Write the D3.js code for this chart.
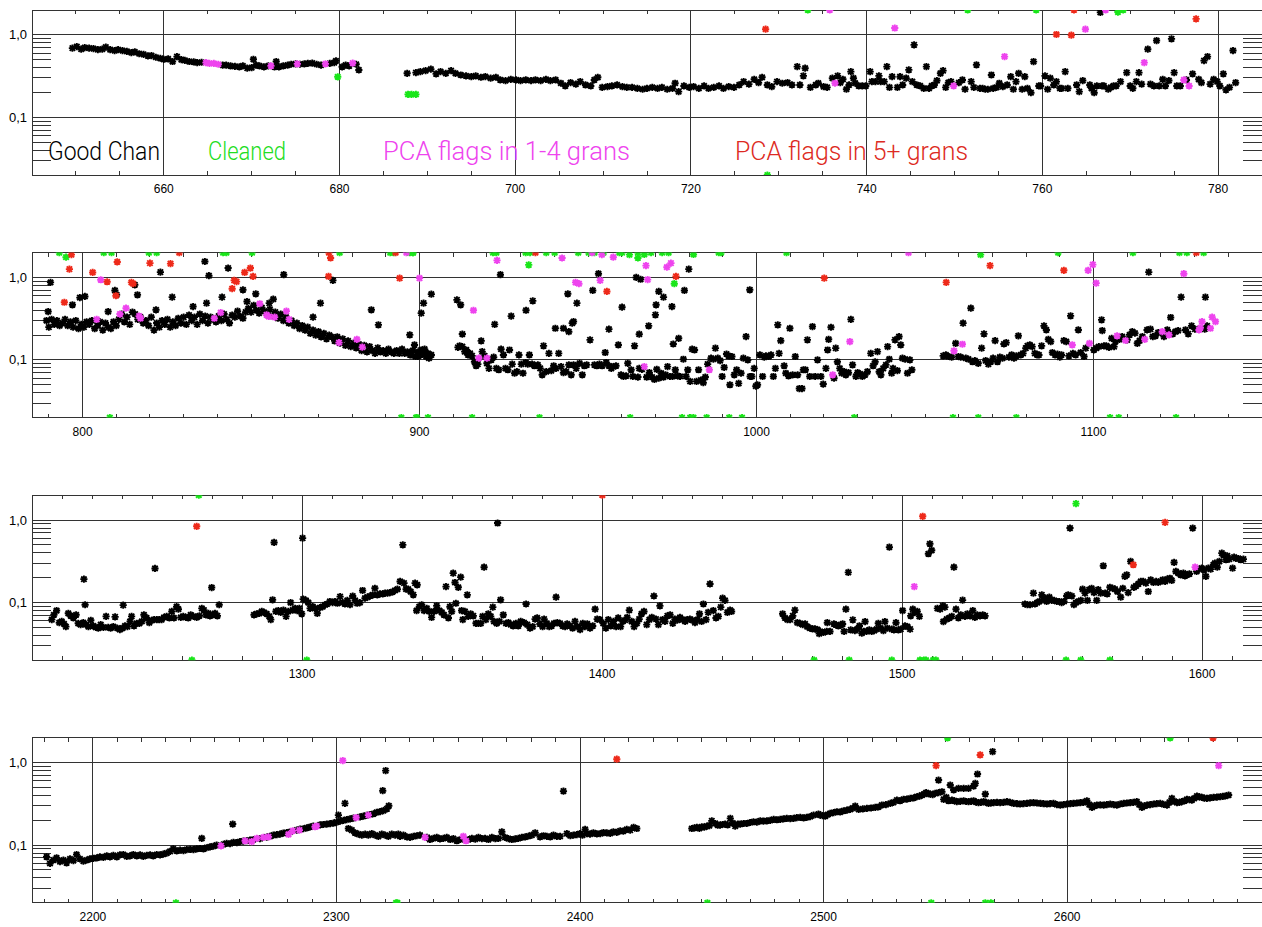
<!DOCTYPE html>
<html><head><meta charset="utf-8">
<script src="https://cdn.jsdelivr.net/npm/d3@7"></script>
<style>body{margin:0;background:#fff}svg{display:block}</style>
</head><body>
<svg id="c" width="1262" height="927"></svg>
<script>
// ---------------- DATA ----------------
const panelDomains = [[645,785],[785,1150],[1210,1620],[2175,2680]];
const panelTicks = [[660,680,700,720,740,760,780],[800,900,1000,1100],[1300,1400,1500,1600],[2200,2300,2400,2500,2600]];
const panelMinorStep = [5,10,10,10];
const yDomain = [0.02,2];
const yMajor = [1,0.1];
const yMajorLabels = ["1,0","0,1"];
const yMinor = [0.03,0.04,0.05,0.06,0.07,0.08,0.09,0.2,0.3,0.4,0.5,0.6,0.7,0.8,0.9];
const legendLabels = ["Good Chan","Cleaned","PCA flags in 1-4 grans","PCA flags in 5+ grans"];

const p1Good = [[649.6,.69],[650.1,.72],[650.6,.67],[651.0,.70],[651.5,.69],[652.0,.68],[652.5,.66],[653.0,.67],[653.4,.71],[653.9,.66],[654.4,.645],[654.8,.66],[655.3,.645],[655.8,.63],[656.3,.61],[656.7,.62],[657.2,.59],[657.7,.58],[658.2,.555],[658.6,.56],[659.1,.535],[659.6,.52],[660.0,.505],[660.5,.51],[661.0,.475],[661.5,.545],[662.0,.50],[662.4,.49],[662.9,.475],[663.4,.47],[663.8,.46],[664.3,.465],[666.7,.43],[667.1,.43],[667.6,.42],[668.1,.415],[668.6,.41],[669.0,.42],[669.5,.395],[670.0,.40],[670.2,.505],[670.5,.43],[670.9,.42],[671.4,.41],[671.9,.42],[672.6,.41],[672.8,.475],[673.1,.41],[673.6,.42],[674.1,.43],[674.5,.44],[675.0,.445],[675.5,.44],[676.0,.445],[676.4,.45],[676.9,.455],[677.4,.44],[677.9,.43],[678.9,.45],[679.4,.46],[679.6,.485],[680.3,.41],[680.7,.43],[681.1,.42],[681.9,.44],[682.2,.375],
[687.7,.342],[688.7,.348],[689.2,.358],[689.8,.368],[690.4,.383],[691.0,.336],[691.5,.358],[692.1,.342],[692.7,.368],[693.2,.342],[693.8,.326],[694.4,.318],[695.0,.311],[695.5,.318],[696.1,.306],[696.6,.311],[697.2,.298],[697.8,.306],[698.3,.284],[698.9,.279],[699.5,.289],[700.1,.284],[700.6,.279],[701.2,.284],[701.8,.279],[702.3,.284],[702.9,.279],[703.5,.289],[704.0,.279],[704.6,.284],[705.2,.259],[705.7,.24],[706.3,.263],[706.9,.253],[707.4,.271],[708.0,.247],[708.6,.24],[709.0,.284],[709.4,.306],[709.9,.231],[710.5,.235],[711.0,.24],[711.6,.247],[712.2,.235],[712.7,.231],[713.3,.231],[713.9,.225],[714.5,.219],[715.0,.225],[715.6,.231],[716.2,.225],[716.7,.231],[717.3,.219],[717.9,.225],[718.2,.259],[718.6,.205],[719.2,.24],[719.8,.231],[720.3,.235],[720.9,.225],[721.5,.24],[722.0,.225],[722.6,.231],[723.2,.24],[723.7,.225],[724.3,.235],[724.9,.231],[725.5,.247],[726.0,.271],[726.6,.253],[727.2,.289],[727.7,.263],[728.1,.306],[728.7,.247],[729.2,.235],[729.8,.271],[730.4,.259],[731.0,.263],[731.5,.247],[732.1,.412],[732.4,.247],[732.8,.318],[733.0,.394],[733.6,.231],[734.2,.247],[734.5,.259],
[735.1,.235],[735.5,.231],[736.1,.298],[736.7,.318],[737.0,.263],[737.3,.289],[737.7,.219],[738.0,.247],[738.2,.358],[738.5,.298],[738.7,.259],[739.1,.24],[739.5,.24],[739.9,.24],[740.4,.358],[740.6,.271],[741.0,.271],[741.4,.318],[741.6,.271],[742.0,.271],[742.3,.412],[742.6,.231],[742.9,.311],[743.5,.231],[743.8,.311],[744.1,.247],[744.5,.298],[744.8,.376],[745.2,.271],[745.4,.756],[745.7,.247],[746.1,.24],[746.5,.225],[746.8,.412],[747.1,.225],[747.4,.24],[747.7,.247],[748.0,.279],[748.4,.342],[748.7,.368],[749.0,.231],[749.3,.263],[749.6,.271],[750.5,.263],[750.9,.284],[751.2,.219],[751.9,.271],[752.2,.231],[752.5,.432],[752.9,.225],[753.2,.225],[753.5,.219],[753.8,.219],[754.2,.326],[754.4,.225],[754.8,.231],[755.1,.259],[755.5,.235],[756.0,.247],[756.4,.311],[756.7,.219],[757.0,.271],[757.3,.342],[757.7,.219],[758.0,.311],[758.3,.225],[758.7,.199],[759.0,.474],[759.6,.24],[759.8,.24],[760.3,.318],[760.6,.219],[760.9,.298],[761.3,.247],[761.6,.271],[762.0,.225],[762.2,.225],[762.6,.358],[762.9,.225],[763.9,.247],[764.2,.205],[764.6,.279],[765.4,.247],[765.6,.225],[765.9,.199],[766.2,.24],[766.6,1.87],[766.8,.24],[767.0,.24],[767.5,.219],[767.8,.231],[768.1,.24],[768.4,.24],[768.9,.271],[769.6,.348],[770.0,.24],[770.3,.225],[770.7,.271],[771.0,.348],[771.3,.253],[772.0,.67],[772.3,.253],[772.7,.24],[773.0,.853],[773.3,.24],[773.7,.289],[774.0,.24],[774.4,.279],[774.7,.894],[775.0,.348],[775.3,.24],[775.7,.24],[776.4,.284],[777.1,.336],[777.8,.289],[778.1,.263],[778.4,.487],[778.8,.545],[779.1,.253],[779.5,.289],[779.9,.271],[780.2,.24],[780.6,.336],[780.9,.215],[781.3,.231],[781.7,.645],[782.0,.263]];
const p1Cleaned = [[679.8,.31],[687.8,.19],[688.2,.19],[688.7,.19],[728.7,.02],[733.3,2],[751.5,2],[759.3,2],[768.6,1.89],[769.2,2]];
const p1Pca14 = [[664.8,.46],[665.2,.45],[665.7,.45],[666.2,.44],[672.2,.42],[675.2,.445],[678.4,.445],[681.5,.455],[735.8,2],[736.4,.259],[743.2,1.21],[749.9,.24],[755.7,.545],[764.9,1.17],[767.2,2],[771.6,.46],[776.1,.284],[776.7,.24]];
const p1Pca5 = [[728.5,1.17],[761.6,1.01],[763.3,.99],[763.6,2],[777.5,1.56]];

const p2Good = [[789.3,.30],[790.0,.25],[790.8,.31],[791.6,.27],[792.4,.30],[793.2,.26],[794.0,.28],[794.8,.31],[795.6,.26],[796.4,.29],[797.2,.25],[798.0,.30],[798.8,.24],[799.6,.27],[800.4,.25],[801.2,.29],[802.0,.27],[802.8,.30],[803.6,.24],[804.4,.26],[805.2,.29],[806.0,.23],[806.8,.28],[807.6,.25],[808.4,.24],[809.2,.29],[810.0,.26],[810.8,.31],[811.6,.36],[812.4,.29],[813.2,.33],[814.0,.27],[814.8,.38],[815.6,.36],[816.4,.31],[817.2,.33],[818.0,.28],[818.8,.30],[819.6,.26],[820.4,.33],[821.2,.23],[822.0,.28],[822.8,.25],[823.6,.30],[824.4,.27],[825.2,.31],[826.0,.25],[826.8,.29],[827.6,.26],[828.4,.32],[829.2,.28],[830.0,.33],[830.8,.27],[831.6,.35],[832.4,.30],[833.2,.33],[834.0,.27],[834.8,.36],[835.6,.30],[836.4,.34],[837.2,.28],[838.0,.33],[838.8,.31],[839.6,.29],[840.4,.34],[841.2,.30],[842.0,.36],[842.8,.31],[843.6,.28],[844.4,.35],[845.2,.33],[846.0,.39],[846.8,.34],[847.6,.32],[848.4,.38],[849.2,.42],[850.0,.38],[850.8,.46],[851.6,.40],[852.4,.37],[853.2,.43],[854.0,.39],[854.8,.35],[855.6,.41],[856.4,.34],[857.2,.38],[858.0,.32],[858.8,.36],[859.6,.30],[860.4,.33],[861.2,.28],[862.0,.30],[862.8,.26],[863.6,.28],[864.4,.24],[865.2,.26],[866.0,.23],[866.8,.25],[867.6,.21],[868.4,.23],[869.2,.20],[870.0,.22],[870.8,.19],[871.6,.21],[872.4,.18],[873.2,.20],[874.0,.19],[874.8,.17],[875.6,.19],[876.4,.16],[877.2,.18],[878.0,.15],[878.8,.17],[879.6,.145],[880.4,.16],[881.2,.14],[882.0,.155],[882.8,.13],[883.6,.15],[884.4,.125],[885.2,.145],[886.0,.13],[886.8,.12],[887.6,.14],[888.4,.125],[889.2,.13],[890.0,.12],[890.8,.135],[891.6,.125],[892.4,.12],[893.2,.13],[894.0,.12],[894.8,.135],[895.6,.12],[896.4,.125],[897.2,.115],[898.0,.13],[898.8,.11],[899.6,.125],[900.4,.115],[901.2,.12],[902.0,.11],[902.8,.105],
[789.8,.386],[790.5,.87],[797.0,.466],[799.2,.57],[800.7,.588],[807.6,.386],[809.6,.695],[810.1,.616],[815.5,.814],[816.3,.616],[821.8,.405],[823.1,1.16],[826.6,.577],[832.8,.444],[836.3,1.56],[837.5,1.05],[836.8,.488],[841.4,.577],[843.2,1.30],[847.6,.708],[848.8,.51],[851.4,.633],[855.4,.488],[856.6,.545],[859.7,1.08],[868.4,.33],[870.6,.488],[874.3,.92],[885.7,.405],[887.8,.266],[897.1,.201],
[897.6,.115],[898.5,.152],[899.5,.11],[900.5,.132],[901.5,.135],[902.5,.12],[903.5,.115],[900.5,.369],[901.2,.488],[903.5,.627],[911.1,.535],[912.2,.466],[912.7,.206],
[911.4,.142],[911.9,.148],[912.7,.145],[913.4,.126],[913.9,.132],[914.4,.115],[915.0,.12],[915.6,.112],[916.3,.095],[916.8,.085],[917.3,.089],[918.3,.17],[918.6,.126],[919.3,.112],[920.0,.091],[920.6,.079],[921.3,.10],[922.0,.108],[922.8,.079],[923.5,.076],[924.2,.135],[924.9,.115],[925.5,.079],[926.2,.076],[926.7,.132],[927.5,.089],[928.2,.069],[928.9,.072],[929.5,.115],[930.2,.089],[930.7,.069],[931.5,.093],[932.1,.089],[932.6,.115],[933.4,.089],[934.1,.085],[935.1,.087],[935.8,.079],[936.4,.066],[937.6,.072],[938.4,.12],[939.1,.074],[939.8,.085],[940.5,.079],[941.3,.12],[942.0,.083],[942.7,.07],[943.5,.072],[944.3,.087],[945.0,.066],[945.7,.087],[946.5,.079],[947.5,.091],[948.3,.066],[948.9,.085],[949.6,.087],[951.9,.087],[952.6,.085],[953.4,.089],[954.2,.085],[955.4,.093],[956.2,.085],[956.9,.079],[957.5,.083],[958.3,.085],[959.8,.066],[960.5,.063],[961.3,.064],[961.8,.091],[962.8,.076],[963.3,.063],[964.8,.062],[965.2,.079],[966.0,.077],[967.4,.062],[968.2,.07],[969.0,.062],[969.7,.058],[970.4,.077],[971.0,.06],[971.7,.069],[972.4,.062],[973.0,.066],[973.6,.083],[974.3,.063],[975.1,.063],[975.9,.076],[976.6,.064],[977.3,.063],[978.3,.102],[979.1,.063],[979.6,.076],[980.3,.055],[980.9,.135],[981.6,.132],[982.2,.055],[982.8,.076],[983.5,.057],[984.2,.053],[984.8,.062],[985.5,.089],[986.5,.105],[987.2,.102],[987.8,.139],[988.5,.105],[989.2,.098],[989.8,.063],[990.4,.081],[991.1,.118],[991.7,.112],[992.1,.05],[992.7,.11],[993.4,.066],[994.1,.076],[994.7,.052],[995.4,.069],[996.1,.105],[997.4,.10],[998.1,.063],[998.6,.063],[999.3,.079],[999.8,.048],[1000.3,.05],[1001.0,.115],[1001.8,.063],[1002.3,.108],[1002.8,.112],[1003.6,.11],[1004.3,.115],[1005.0,.063],[1005.6,.079],[1006.7,.12],[1008.2,.085],[1008.7,.069],[1009.5,.064],[1010.7,.066],[1011.5,.11],[1012.2,.066],[1012.7,.045],[1013.5,.045],[1013.9,.076],[1014.5,.076],[1015.8,.063],[1017.4,.063],[1018.1,.10],
[922.3,.27],[924.0,1.08],[927.2,.34],[931.6,.40],[933.6,.52],[936.8,.148],[940.3,.242],[942.7,.242],[944.0,.633],[944.3,.22],[945.3,.279],[945.7,.292],[946.7,.488],[950.6,.175],[951.4,.695],[953.1,1.11],[955.1,.123],[956.2,.236],[959.0,.152],[960.1,.436],[963.8,.148],[964.3,1.0],[965.6,.95],[965.2,.205],[968.0,.259],[970.0,.352],[970.2,.466],[971.0,.676],[972.4,.577],[974.9,.444],[975.3,.156],[976.9,.183],[978.6,.695],[979.9,1.26],[996.9,.192],[998.0,.708],[1006.3,.266],[1007.2,.171],[1009.9,.242],[1015.1,.175],[1016.6,.254],
[1019.1,.063],[1019.8,.051],[1020.6,.079],[1023.0,.06],[1023.5,.139],[1024.0,.095],[1024.7,.079],[1025.3,.069],[1026.0,.072],[1026.5,.066],[1027.3,.07],[1028.5,.087],[1029.5,.063],[1030.0,.07],[1030.7,.068],[1031.4,.063],[1032.2,.066],[1032.9,.072],[1033.9,.12],[1034.6,.085],[1035.2,.095],[1035.9,.126],[1036.4,.072],[1036.9,.066],[1037.6,.079],[1038.4,.087],[1038.9,.145],[1039.4,.102],[1040.1,.069],[1040.5,.079],[1041.8,.074],[1042.8,.152],[1043.3,.105],[1044.1,.102],[1044.8,.069],[1045.5,.10],[1046.1,.076],
[1021.1,.132],[1021.4,.178],[1022.1,.249],[1028.0,.31],[1041.1,.175],[1042.3,.192],
[1055.4,.112],[1056.2,.115],[1057.1,.11],[1057.9,.108],[1059.1,.159],[1059.9,.11],[1060.6,.108],[1061.3,.279],[1062.1,.105],[1062.9,.102],[1063.6,.424],[1064.1,.095],[1064.8,.098],[1065.8,.091],[1066.8,.139],[1067.5,.207],[1068.0,.098],[1068.8,.089],[1069.5,.095],[1070.2,.105],[1070.8,.171],[1071.5,.095],[1072.2,.108],[1073.0,.105],[1073.4,.156],[1074.1,.162],[1074.9,.108],[1075.7,.115],[1076.4,.105],[1077.1,.112],[1077.7,.196],[1078.4,.115],[1079.1,.12],[1079.9,.139],[1080.4,.148],[1081.1,.152],[1081.8,.145],[1082.6,.12],[1083.3,.115],[1083.8,.115],[1084.6,.148],[1085.3,.259],[1086.0,.231],[1086.6,.178],[1087.3,.167],[1087.8,.123],[1088.6,.115],[1089.3,.118],[1090.0,.108],[1090.5,.115],[1091.2,.171],[1091.9,.167],[1092.7,.112],[1093.2,.342],[1093.9,.12],[1094.7,.115],[1095.5,.231],[1096.2,.123],[1097.2,.11],[1097.7,.139],[1100.1,.132],[1100.8,.139],[1101.6,.145],[1102.4,.306],[1102.6,.227],[1103.1,.148],[1103.8,.148],[1104.6,.142],[1105.4,.183],[1106.1,.145],[1106.5,.167],[1107.7,.178],[1108.5,.192],[1110.0,.175],[1110.7,.201],[1111.5,.22],[1112.3,.211],[1113.0,.159],[1113.7,.171],[1114.5,.192],[1115.9,.231],[1116.4,1.16],[1116.9,.236],[1117.6,.192],[1118.4,.196],[1119.2,.215],[1119.9,.215],[1120.9,.192],[1121.9,.231],[1122.9,.327],[1123.5,.207],[1124.3,.22],[1125.1,.227],[1126.0,.577],[1127.3,.231],[1128.1,.207],[1129.1,.259],[1130.1,.236],[1133.0,.236],[1133.2,.577],[1133.7,.259]];
const p2Cleaned = [[793.1,2],[795.1,1.76],[806.3,2],[808.6,2],[819.7,2],[822.0,2],[841.7,2],[842.7,2],[850.3,2],[876.3,2],[891.3,2],[892.3,2],[898.0,2],[808.1,.02],[894.6,.02],[899.0,.02],
[897.1,2],[898.1,2],[921.8,2],[922.8,2],[931.5,2],[932.8,2],[937.6,2],[940.1,2],[947.1,2],[950.2,2],[951.9,2],[954.6,2],[959.3,2],[960.1,2],[962.3,1.89],[964.8,2],[964.8,1.72],[966.7,1.9],[968.7,2],[972.0,2],[973.9,2],[981.3,1.9],[988.8,2],[989.5,2],[1008.9,2],[932.4,1.42],[975.6,.84],
[899.2,.02],[902.5,.02],[915.6,.02],[935.6,.02],[962.5,.02],[977.9,.02],[980.3,.02],[981.3,.02],[985.2,.02],[991.9,.02],[995.7,.02],
[1066.5,1.89],[1089.5,2],[1111.7,2],[1125.5,2],[1127.7,2],[1132.7,2],[1029.0,.02],[1058.3,.02],[1065.8,.02],[1077.1,.02],[1104.9,.02],[1107.5,.02],[1124.5,.02]];
const p2Pca14 = [[805.4,.937],[804.2,.31],[811.1,.36],[812.9,.424],[816.8,.34],[817.2,.32],[839.1,.32],[841.0,.375],[852.6,.48],[854.6,.352],[855.3,.336],[857.0,.33],[860.5,.39],[861.3,.31],[876.1,.162],[881.4,.178],[883.0,.143],[896.1,2],[900.0,.98],
[916.0,.40],[917.6,.105],[920.0,.105],[923.0,1.61],[942.3,1.72],[946.3,.87],[947.3,.84],[951.2,2],[953.6,.92],[954.1,1.89],[957.5,1.76],[966.7,.083],[967.2,1.39],[967.7,.94],[973.4,1.33],[974.6,1.49],[986.0,.076],
[1022.6,.066],[1027.7,.167],[1045.1,2],[1058.6,.129],[1061.1,.155],[1093.7,.152],[1098.4,1.22],[1098.8,.159],[1099.8,1.43],[1100.8,.853],[1107.0,.196],[1109.5,.172],[1115.2,.178],[1120.4,.22],[1122.4,.201],[1126.8,1.11],[1131.3,.231],[1131.7,.245],[1132.2,.292],[1134.7,.242],[1135.2,.33],[1136.2,.292]];
const p2Pca5 = [[796.7,1.89],[796.1,1.26],[794.6,.50],[803.0,1.15],[807.3,.886],[810.3,1.54],[809.9,.60],[814.5,.87],[815.0,.84],[820.0,1.49],[826.1,1.47],[828.7,2],[844.4,.73],[845.0,.92],[845.7,.89],[848.1,1.15],[849.8,1.30],[850.6,1.03],[873.1,2],[873.6,1.72],[873.0,1.03],[892.9,2],[894.1,.98],
[934.4,2],[955.6,.676],[976.1,1.03],[1020.1,.98],[1056.3,.87],[1069.3,1.39],[1091.2,1.22],[1130.5,2]];

const p3Good = [[1216.6,.062],[1217.3,.071],[1218.2,.08],[1219.1,.057],[1219.9,.059],[1220.7,.055],[1221.3,.051],[1222.1,.074],[1222.9,.069],[1223.8,.065],[1224.7,.071],[1225.4,.056],[1226.2,.054],[1227.1,.057],[1227.7,.094],[1227.3,.192],[1228.0,.054],[1228.8,.051],[1229.6,.061],[1230.4,.052],[1231.3,.05],[1232.1,.049],[1232.9,.054],[1233.8,.05],[1234.7,.068],[1235.4,.05],[1236.2,.049],[1237.1,.051],[1237.7,.067],[1238.4,.049],[1239.3,.047],[1240.2,.049],[1240.4,.093],[1241.0,.052],[1241.8,.051],[1242.7,.059],[1243.2,.068],[1244.0,.052],[1244.9,.056],[1245.8,.056],[1246.6,.059],[1247.3,.071],[1248.2,.065],[1249.1,.057],[1249.9,.061],[1250.7,.062],[1251.0,.259],[1251.6,.062],[1252.4,.062],[1253.2,.062],[1254.0,.066],[1254.9,.068],[1255.8,.065],[1256.6,.078],[1257.3,.065],[1258.2,.089],[1258.8,.083],[1259.6,.066],[1260.4,.068],[1261.3,.066],[1262.1,.065],[1262.9,.071],[1263.8,.068],[1264.9,.066],[1265.8,.069],[1266.6,.085],[1267.3,.081],[1268.0,.071],[1268.8,.074],[1269.3,.069],[1269.9,.152],[1270.2,.071],[1271.0,.074],[1271.8,.069],[1272.4,.094],
[1284.0,.071],[1284.9,.073],[1285.8,.074],[1286.6,.078],[1287.3,.076],[1288.2,.073],[1289.1,.068],[1289.6,.062],[1290.2,.108],[1290.7,.535],[1291.3,.078],[1292.1,.08],[1292.9,.076],[1293.8,.081],[1294.7,.068],[1295.4,.078],[1296.2,.1],[1296.9,.081],[1297.7,.085],[1298.4,.08],[1299.1,.085],[1299.9,.073],[1300.2,.604],[1300.4,.11],[1301.3,.106],[1302.1,.1],[1302.7,.085],[1303.6,.089],[1304.3,.085],[1305.1,.074],[1306.0,.087],[1306.9,.089],[1307.7,.094],[1308.4,.096],[1309.3,.103],[1310.2,.1],[1311.0,.103],[1311.8,.098],[1312.7,.118],[1313.6,.1],[1314.3,.096],[1315.1,.106],[1316.0,.094],[1316.9,.12],[1317.7,.106],[1318.4,.098],[1319.3,.1],[1320.2,.14],[1321.0,.113],[1321.8,.116],[1322.7,.12],[1323.6,.124],[1324.3,.149],[1325.1,.124],[1326.0,.127],[1326.9,.127],[1327.7,.13],[1328.5,.13],[1329.3,.132],[1330.2,.135],[1331.0,.14],[1331.8,.145],[1332.7,.18],[1333.6,.50],[1334.0,.172],[1334.7,.145],[1335.4,.145],[1336.2,.136],[1337.1,.124],[1337.7,.172],[1338.2,.08],[1339.1,.089],
[1338.4,.164],[1339.9,.094],[1340.7,.080],[1341.6,.085],[1342.4,.078],[1343.2,.066],[1344.0,.078],[1344.9,.091],[1345.8,.080],[1346.6,.076],[1347.3,.071],[1348.0,.156],[1348.8,.065],[1349.3,.089],[1349.9,.078],[1350.4,.227],[1351.0,.175],[1351.3,.098],[1352.1,.153],[1352.9,.203],[1353.2,.080],[1353.6,.062],[1354.3,.078],[1355.1,.124],[1355.4,.068],[1356.2,.073],[1357.1,.069],[1358.0,.056],[1358.8,.056],[1359.6,.056],[1360.2,.068],[1360.7,.268],[1361.3,.062],[1362.1,.073],[1362.9,.068],[1363.6,.088],[1364.0,.059],[1364.9,.056],[1365.2,.92],[1365.8,.059],[1366.2,.108],[1367.1,.071],[1368.0,.056],[1368.8,.057],[1369.6,.054],[1370.4,.052],[1371.3,.056],[1372.1,.052],[1372.9,.059],[1374.0,.057],[1374.7,.096],[1375.1,.054],[1376.0,.049],[1376.9,.051],[1377.7,.063],[1378.4,.065],[1379.3,.055],[1380.2,.051],[1380.7,.063],[1381.6,.056],[1382.4,.051],[1383.2,.052],[1384.0,.056],[1384.7,.116],[1385.1,.057],[1386.0,.056],[1386.9,.052],[1387.7,.051],[1388.4,.055],[1389.3,.052],[1390.2,.049],[1391.0,.059],[1391.8,.051],[1392.7,.047],[1393.6,.056],[1394.3,.051],[1395.1,.055],[1396.0,.049],[1396.9,.052],[1397.7,.083],[1398.4,.063],[1399.3,.062],[1400.4,.056],[1401.3,.049],[1402.1,.062],[1402.9,.052],[1403.8,.059],[1404.7,.051],[1405.4,.065],[1406.2,.051],[1406.9,.059],[1407.7,.061],[1408.4,.066],[1409.1,.081],[1409.9,.059],[1410.7,.051],[1411.6,.056],[1412.4,.063],[1413.2,.073],[1414.0,.078],[1414.9,.054],[1415.8,.062],[1416.6,.066],[1417.3,.12],[1418.0,.063],[1418.8,.054],[1419.3,.091],[1420.2,.062],[1421.0,.059],[1421.8,.069],[1422.7,.071],[1423.6,.056],[1424.3,.063],[1425.1,.061],[1426.0,.066],[1426.9,.062],[1427.7,.059],[1428.4,.062],[1429.3,.063],[1430.2,.061],[1431.0,.057],[1431.8,.062],[1432.5,.073],[1433.2,.059],[1433.8,.096],[1434.7,.062],[1435.4,.076],[1436.0,.168],[1437.1,.080],[1438.0,.065],[1438.8,.068],[1439.6,.088],[1440.2,.113],[1441.0,.106],[1441.8,.076],[1442.7,.081],[1443.2,.078],
[1460.2,.073],[1461.0,.065],[1461.8,.062],[1462.7,.062],[1463.6,.069],[1464.3,.081],[1465.1,.057],[1466.0,.056],[1466.9,.054],[1467.7,.055],[1468.4,.051],[1469.3,.049],[1470.2,.048],[1471.0,.048],[1471.8,.047],[1472.4,.042],
[1472.7,.0446],[1473.8,.0433],[1474.9,.0446],[1475.1,.057],[1476.0,.0446],[1477.3,.055],[1478.0,.0536],[1478.8,.052],[1479.6,.0536],[1480.2,.055],[1480.7,.0446],[1481.3,.083],[1482.1,.232],[1482.9,.0466],[1483.6,.0616],[1484.3,.0456],[1485.1,.0476],[1485.8,.052],[1486.6,.0425],[1487.3,.0446],[1487.7,.0588],[1488.2,.0446],[1489.1,.0466],[1489.9,.0446],[1490.7,.0456],[1491.6,.0476],[1492.1,.0561],[1492.9,.0488],[1493.8,.0456],[1494.3,.0588],[1495.1,.0488],[1495.8,.47],[1496.6,.0476],[1497.3,.0466],[1498.0,.057],[1498.8,.0466],[1499.6,.0476],[1500.2,.08],[1501.0,.052],[1501.8,.051],[1502.7,.0476],[1502.9,.069],[1503.6,.083],[1504.3,.0757],[1505.1,.078],[1505.8,.068],[1508.8,.39],[1509.3,.515],[1509.9,.43],[1511.8,.085],[1512.7,.083],[1513.6,.091],[1514.3,.088],[1513.8,.0588],[1514.9,.0628],[1515.8,.065],[1516.6,.068],[1517.3,.268],[1518.0,.083],[1518.8,.065],[1519.6,.071],[1520.2,.107],[1521.0,.068],[1521.8,.073],[1522.7,.069],[1523.6,.08],[1524.3,.066],[1525.1,.071],[1526.0,.069],[1526.9,.071],[1527.7,.069],
[1541.0,.096],[1541.8,.094],[1542.7,.094],[1543.8,.13],[1544.3,.096],[1545.1,.1],[1545.8,.103],[1546.6,.124],[1547.1,.11],[1547.7,.113],[1548.2,.103],[1549.1,.116],[1549.9,.106],[1550.7,.106],[1551.6,.103],[1552.4,.103],[1553.2,.1],[1554.0,.103],[1554.9,.12],[1555.4,.124],[1556.0,.80],[1556.6,.12],[1557.3,.094],[1558.0,.1],[1558.8,.103],[1559.6,.106],[1560.2,.145],[1561.0,.13],[1561.8,.106],[1562.4,.143],[1563.2,.149],[1564.0,.132],[1564.9,.106],[1565.4,.143],[1566.2,.13],[1567.1,.279],[1567.7,.13],[1568.4,.127],[1569.3,.153],[1570.2,.149],[1571.0,.145],[1571.8,.136],[1572.9,.116],[1573.6,.149],[1574.3,.207],[1574.9,.217],[1575.4,.132],[1576.2,.315],[1577.3,.153],[1578.0,.159],[1578.8,.168],[1579.6,.18],[1580.4,.18],[1581.3,.172],[1582.1,.136],[1582.9,.188],[1583.8,.175],[1584.7,.18],[1585.4,.175],[1586.2,.18],[1586.9,.188],[1587.7,.18],[1588.4,.192],[1589.3,.197],[1589.9,.185],[1590.7,.306],[1591.3,.238],[1592.1,.227],[1592.9,.217],[1593.8,.227],[1594.3,.211],[1594.9,.217],[1595.8,.222],[1596.9,.80],[1598.2,.238],[1599.1,.254],[1599.9,.261],[1600.7,.249],[1601.3,.207],[1602.1,.261],[1602.9,.254],[1603.8,.287],[1604.3,.30],[1605.1,.268],[1605.8,.315],[1606.6,.397],[1607.1,.379],[1608.0,.33],[1608.4,.369],[1609.1,.336],[1610.2,.261],[1610.7,.355],[1611.3,.342],[1612.1,.342],[1612.9,.33],[1613.8,.336]];
const p3Cleaned = [[1265.6,2],[1263.3,.02],[1301.6,.02],[1470.7,.02],[1482.4,.02],[1496.6,.02],[1506.0,.02],[1507.3,.02],[1508.0,.02],[1510.4,.02],[1511.3,.02],[1554.7,.02],[1558.0,1.58],[1559.6,.02],[1569.3,.02]];
const p3Pca14 = [[1504.1,.156],[1597.7,.269]];
const p3Pca5 = [[1264.9,.84],[1400.1,2],[1506.9,1.11],[1577.1,.287],[1587.7,.937]];

const p4Good = [[2181.0,.072],[2182.4,.060],[2183.8,.066],[2185.1,.070],[2186.5,.063],[2187.9,.066],[2189.2,.061],[2190.6,.068],[2192.0,.065],[2193.3,.077],[2194.7,.068],[2196.1,.064],[2197.5,.066],[2198.8,.068],[2200.2,.069],[2201.6,.070],[2202.9,.072],[2204.3,.071],[2205.7,.074],[2207.0,.072],[2208.4,.075],[2209.8,.072],[2211.1,.076],[2212.5,.077],[2213.9,.073],[2215.2,.074],[2216.6,.077],[2218.0,.074],[2219.4,.076],[2220.7,.073],[2222.1,.075],[2223.5,.076],[2224.8,.074],[2226.2,.077],[2227.6,.076],[2228.9,.078],[2230.3,.080],[2231.7,.084],[2233.0,.090],[2234.4,.085],[2235.8,.087],[2237.2,.086],[2238.5,.088],[2239.9,.089],[2241.3,.088],[2242.6,.090],[2244.0,.091],[2244.7,.121],[2245.4,.090],[2246.7,.093],[2248.1,.095],[2249.5,.097],[2250.8,.100],[2253.6,.102],[2254.9,.105],[2256.3,.104],[2257.4,.180],[2257.7,.108],[2259.1,.107],[2260.4,.110],[2261.8,.112],[2263.2,.113],[2264.5,.115],[2265.9,.117],[2268.6,.120],[2271.4,.125],[2272.7,.128],[2274.1,.132],[2275.5,.134],[2276.8,.136],[2278.2,.140],[2279.6,.142],[2281.0,.145],[2283.7,.152],[2285.1,.156],[2286.4,.158],[2287.8,.162],[2289.2,.166],[2290.5,.170],[2293.3,.176],[2294.6,.178],[2296.0,.180],[2297.4,.182],[2298.8,.185],[2300.1,.190],[2300.8,.231],[2301.5,.195],[2302.9,.200],[2303.5,.321],[2304.2,.204],[2305.6,.208],[2307.0,.212],[2309.7,.220],[2311.1,.225],[2312.4,.230],[2313.8,.235],[2315.2,.240],[2316.5,.250],[2317.9,.255],[2319.0,.457],[2319.3,.262],[2320.2,.800],[2320.7,.275],[2321.5,.300],
[2304.9,.159],[2306.3,.152],[2307.6,.141],[2309.0,.136],[2310.4,.132],[2311.8,.136],[2313.1,.132],[2314.5,.138],[2315.9,.132],[2317.2,.128],[2318.6,.136],[2320.0,.132],[2321.3,.128],[2322.7,.136],[2324.1,.132],[2325.4,.136],
[2326.1,.128],[2327.5,.132],[2328.9,.126],[2330.2,.124],[2331.6,.128],[2333.0,.13],[2334.3,.132],[2337.2,.124],[2338.4,.117],[2339.8,.121],[2341.2,.124],[2342.5,.119],[2343.9,.121],[2345.3,.124],[2346.7,.117],[2348.0,.12],[2349.4,.113],[2350.8,.117],[2354.2,.117],[2355.6,.121],[2357.0,.118],[2358.3,.124],[2359.7,.12],[2361.0,.121],[2362.4,.117],[2363.8,.124],[2365.2,.12],[2366.5,.121],[2367.9,.145],[2369.2,.124],[2370.6,.12],[2372.0,.117],[2373.4,.119],[2374.7,.121],[2376.1,.124],[2377.5,.126],[2378.9,.129],[2380.2,.132],[2381.6,.141],[2383.6,.126],[2385.0,.13],[2386.4,.128],[2387.8,.126],[2389.1,.132],[2390.5,.128],[2391.8,.128],[2393.2,.452],[2394.6,.138],[2396.0,.13],[2397.3,.132],[2398.7,.134],[2400.0,.138],[2401.0,.132],[2402.1,.155],[2402.8,.138],[2404.1,.136],[2405.5,.141],[2406.9,.137],[2408.3,.138],[2409.6,.142],[2411.0,.141],[2412.4,.139],[2413.7,.145],[2415.1,.143],[2416.5,.149],[2417.8,.148],[2419.2,.155],[2420.6,.152],[2422.0,.164],[2423.3,.159],
[2445.9,.159],[2447.0,.162],[2448.0,.164],[2449.0,.16],[2450.0,.167],[2451.0,.165],[2452.1,.17],[2453.1,.172],[2454.1,.197],[2455.5,.183],[2456.5,.175],[2457.5,.175],[2458.5,.178],[2459.6,.18],[2460.6,.176],[2461.7,.211],[2462.7,.185],[2463.7,.17],[2464.8,.18],[2465.8,.18],[2467.2,.183],[2468.5,.183],[2469.8,.188],[2471.2,.192],[2472.6,.19],[2474.0,.197],[2475.3,.195],[2476.7,.197],[2478.1,.2],[2479.5,.205],[2480.8,.203],[2482.2,.205],[2483.5,.208],[2484.9,.211],[2486.3,.209],[2487.7,.211],[2489.0,.215],[2490.4,.217],[2491.8,.214],[2493.1,.217],[2494.5,.222],[2495.9,.231],[2497.9,.238],
[2498.6,.231],[2499.6,.228],[2500.7,.225],[2501.7,.235],[2502.7,.242],[2504.1,.248],[2505.5,.254],[2506.8,.252],[2508.2,.261],[2509.6,.265],[2510.9,.271],[2512.0,.28],[2513.0,.298],[2514.4,.271],[2516.1,.275],[2517.8,.279],[2519.5,.282],[2521.2,.287],[2522.5,.29],[2523.9,.306],[2525.6,.31],[2527.4,.321],[2528.7,.33],[2530.1,.352],[2531.4,.345],[2532.8,.359],[2534.2,.362],[2535.6,.369],[2537.0,.375],[2538.3,.386],[2539.4,.392],[2540.4,.405],[2541.3,.415],[2542.1,.432],[2543.0,.42],[2543.8,.416],[2544.8,.41],[2545.8,.424],[2547.2,.432],[2548.6,.444],[2549.3,.359],[2550.4,.379],[2551.3,.345],[2552.7,.352],[2553.7,.345],[2554.7,.336],[2556.1,.34],[2557.5,.345],[2558.5,.338],[2559.5,.336],[2560.6,.34],[2561.6,.345],[2562.6,.333],[2563.6,.327],[2564.6,.33],[2565.7,.336],[2566.7,.33],[2567.7,.321],[2568.8,.325],[2569.8,.327],[2571.2,.33],[2572.5,.327],[2573.9,.33],[2575.3,.336],[2576.6,.33],[2578.0,.321],[2579.4,.318],[2580.7,.315],[2582.1,.318],[2583.5,.321],[2584.8,.325],[2586.2,.327],[2587.6,.324],[2589.0,.321],[2590.3,.318],[2591.7,.315],[2593.0,.318],[2594.4,.321],[2595.8,.31],[2597.2,.306],[2598.5,.31],[2599.9,.315],[2601.3,.318],[2602.6,.321],[2604.0,.324],[2605.4,.327],[2606.7,.33],[2608.1,.345],[2609.1,.31],[2610.2,.287],[2611.2,.3],[2612.2,.306],[2613.6,.308],[2615.0,.306],[2616.3,.31],[2617.7,.315],[2619.1,.31],[2620.4,.306],[2621.8,.315],[2623.2,.321],[2624.5,.324],[2625.9,.327],[2627.2,.33],[2628.6,.336],[2629.6,.31],[2630.7,.287],[2631.7,.3],[2632.8,.306],[2634.1,.31],[2635.5,.315],[2636.8,.318],[2638.2,.321],[2639.6,.312],[2641.0,.306],[2642.0,.33],[2643.0,.369],[2644.0,.34],[2645.1,.327],[2646.1,.33],[2647.1,.336],[2648.2,.345],[2649.2,.359],[2650.2,.355],[2651.2,.352],[2652.2,.37],[2653.3,.394],[2654.3,.385],[2655.3,.379],[2656.3,.372],[2657.4,.369],[2658.7,.375],[2660.1,.379],[2661.5,.382],[2662.9,.386],[2663.9,.39],[2664.9,.394],[2666.3,.405],
[2547.2,.615],[2552.0,.535],[2553.4,.466],[2555.4,.488],[2557.5,.488],[2559.5,.488],[2561.6,.52],[2562.3,.56],[2563.2,.728],[2566.4,.416],[2569.4,1.36]];
const p4Cleaned = [[2234.1,.02],[2324.5,.02],[2325.0,.02],[2452.3,.02],[2544.2,.02],[2566.4,.02],[2568.7,.02],[2550.9,2],[2642.3,2]];
const p4Pca14 = [[2252.6,.098],[2262.5,.113],[2265.2,.11],[2267.3,.121],[2270.0,.124],[2272.1,.126],[2280.3,.135],[2282.0,.149],[2284.8,.152],[2291.2,.167],[2291.9,.17],[2302.6,1.06],[2308.1,.216],[2313.1,.231],[2336.4,.124],[2352.1,.128],[2353.2,.113],[2662.2,.92]];
const p4Pca5 = [[2415.1,1.10],[2546.2,.92],[2564.3,1.24],[2659.9,2]];

const panelSeries = [
  [p1Good,p1Cleaned,p1Pca14,p1Pca5],
  [p2Good,p2Cleaned,p2Pca14,p2Pca5],
  [p3Good,p3Cleaned,p3Pca14,p3Pca5],
  [p4Good,p4Cleaned,p4Pca14,p4Pca5]
];

// ---------------- STYLE / LAYOUT ----------------
const seriesColors = ["#000000","#19e619","#ee44ee","#ee2a1a"];
const textColors = ["#000000","#22dd22","#ee44ee","#dd2a22"];
const X0 = 32, X1 = 1262, H = 165;
const tops = [10, 252.6, 495.2, 737.8];
const lineCol = "#333";
const star = "M-3.6,0H3.6M0,-3.6V3.6M-2.7,-2.7L2.7,2.7M-2.7,2.7L2.7,-2.7";

const svg = d3.select("#c");
const y = d3.scaleLog().domain(yDomain).range([H,0]);

panelDomains.forEach((dom,i)=>{
  const x = d3.scaleLinear().domain(dom).range([X0,X1]);
  const g = svg.append("g").attr("transform",`translate(0,${tops[i]})`);
  const cid = "clip"+i;
  g.append("clipPath").attr("id",cid).append("rect")
    .attr("x",X0).attr("y",0).attr("width",X1-X0).attr("height",H);

  g.selectAll(".vg").data(panelTicks[i]).join("line")
    .attr("x1",d=>x(d)).attr("x2",d=>x(d)).attr("y1",0).attr("y2",H)
    .attr("stroke",lineCol).attr("stroke-width",1).attr("shape-rendering","crispEdges");
  g.selectAll(".hg").data(yMajor).join("line")
    .attr("x1",X0).attr("x2",X1).attr("y1",d=>y(d)).attr("y2",d=>y(d))
    .attr("stroke",lineCol).attr("stroke-width",1).attr("shape-rendering","crispEdges");

  const st = panelMinorStep[i];
  const minors = d3.range(Math.ceil(dom[0]/st)*st, dom[1]+1e-6, st).filter(v=>!panelTicks[i].includes(v));
  [[0,4],[H,H-4]].forEach(([a,b])=>{
    g.selectAll(null).data(minors).join("line")
      .attr("x1",d=>x(d)).attr("x2",d=>x(d)).attr("y1",a).attr("y2",b)
      .attr("stroke",lineCol).attr("shape-rendering","crispEdges");
  });
  [[X0,X0+19],[X1-19,X1]].forEach(([a,b])=>{
    g.selectAll(null).data(yMinor).join("line")
      .attr("x1",a).attr("x2",b).attr("y1",d=>y(d)).attr("y2",d=>y(d))
      .attr("stroke",lineCol).attr("shape-rendering","crispEdges");
  });

  g.append("rect").attr("x",X0).attr("y",0).attr("width",X1-X0).attr("height",H)
    .attr("fill","none").attr("stroke",lineCol).attr("shape-rendering","crispEdges");

  g.selectAll(".xl").data(panelTicks[i]).join("text")
    .attr("x",d=>x(d)).attr("y",H+18).attr("text-anchor","middle")
    .attr("font-family","Liberation Sans, Arial, sans-serif").attr("font-size",12)
    .text(d=>d);
  g.selectAll(".yl").data(yMajor).join("text")
    .attr("x",27).attr("y",d=>y(d)+4.5).attr("text-anchor","end")
    .attr("font-family","Liberation Sans, Arial, sans-serif").attr("font-size",13)
    .text((d,k)=>yMajorLabels[k]);

  const pg = g.append("g").attr("clip-path",`url(#${cid})`);
  panelSeries[i].forEach((arr,s)=>{
    pg.append("g").selectAll("path").data(arr).join("path")
      .attr("d",star)
      .attr("transform",d=>`translate(${x(d[0]).toFixed(2)},${y(d[1]).toFixed(2)})`)
      .attr("fill","none").attr("stroke",seriesColors[s]).attr("stroke-width",1.9);
  });

  if(i===0){
    const lx=[48,208,383,735], lw=[112,78,247,233];
    g.selectAll(".lg").data(legendLabels).join("text")
      .attr("x",(d,k)=>lx[k]).attr("y",150)
      .attr("font-family","Roboto, Liberation Sans, sans-serif").attr("font-weight",300)
      .attr("font-size",25).attr("fill",(d,k)=>textColors[k])
      .attr("textLength",(d,k)=>lw[k]).attr("lengthAdjust","spacingAndGlyphs")
      .text(d=>d);
  }
});
</script>
</body></html>
